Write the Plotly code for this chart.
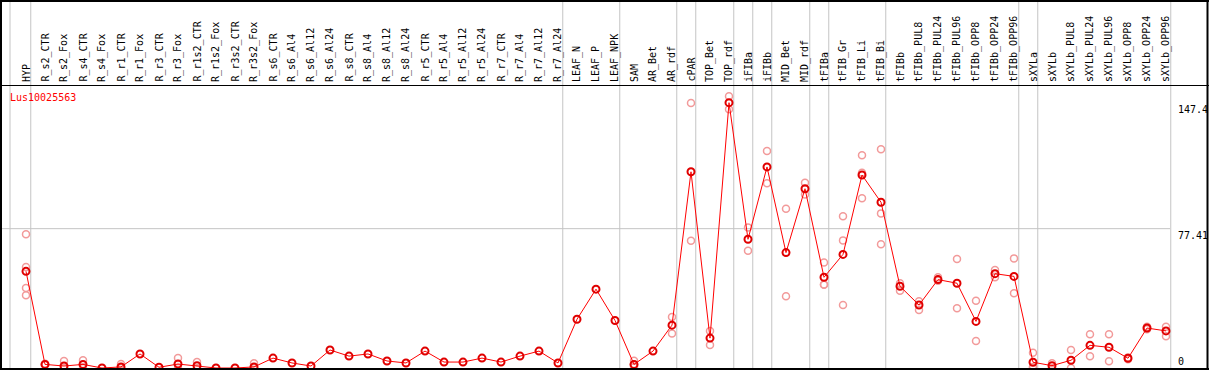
import plotly.graph_objects as go

# ---------------- data ----------------
gene_id = "Lus10025563"

categories = [
    "HYP",
    "R_s2_CTR", "R_s2_Fox", "R_s4_CTR", "R_s4_Fox", "R_r1_CTR", "R_r1_Fox",
    "R_r3_CTR", "R_r3_Fox", "R_r1s2_CTR", "R_r1s2_Fox", "R_r3s2_CTR", "R_r3s2_Fox",
    "R_s6_CTR", "R_s6_Al4", "R_s6_Al12", "R_s6_Al24",
    "R_s8_CTR", "R_s8_Al4", "R_s8_Al12", "R_s8_Al24",
    "R_r5_CTR", "R_r5_Al4", "R_r5_Al12", "R_r5_Al24",
    "R_r7_CTR", "R_r7_Al4", "R_r7_Al12", "R_r7_Al24",
    "LEAF_N", "LEAF_P", "LEAF_NPK",
    "SAM", "AR_Bet", "AR_rdf",
    "cPAR", "TOP_Bet", "TOP_rdf", "iFIBa", "iFIBb", "MID_Bet", "MID_rdf",
    "tFIBa", "tFIB_Gr", "tFIB_Li", "tFIB_Bi",
    "tFIBb", "tFIBb_PUL8", "tFIBb_PUL24", "tFIBb_PUL96", "tFIBb_OPP8", "tFIBb_OPP24", "tFIBb_OPP96",
    "sXYLa", "sXYLb", "sXYLb_PUL8", "sXYLb_PUL24", "sXYLb_PUL96", "sXYLb_OPP8", "sXYLb_OPP24", "sXYLb_OPP96",
]

mean_values = [
    53.7,
    2.0, 1.1, 2.0, 0.0, 0.6, 7.8,
    0.4, 2.2, 1.3, 0.0, 0.0, 0.6,
    5.5, 2.8, 1.1, 10.0,
    6.6, 7.8, 3.9, 2.8,
    9.4, 3.3, 3.3, 5.5,
    3.3, 6.6, 9.4, 2.8,
    27.1, 43.8, 26.4,
    2.0, 9.4, 23.8,
    109.0, 16.6, 147.4, 71.5, 111.7, 64.1, 99.6,
    50.4, 63.1, 107.2, 92.1,
    45.4, 35.0, 49.1, 47.1, 25.9, 52.4, 50.9,
    3.2, 1.3, 4.3, 12.6, 11.5, 5.4, 22.2, 20.6,
]

replicate_values = [
    [74.3, 56.1, 44.4, 40.4],
    [2.3, 1.8], [3.9, 0.0], [4.3, 0.0], [], [2.2, 0.0], [],
    [], [5.6, 0.0], [3.3, 0.0], [], [], [2.6, 0.0],
    [], [], [], [],
    [], [], [], [],
    [], [], [], [],
    [], [], [], [],
    [], [], [],
    [4.0, 0.7, 1.9], [], [28.3, 19.2],
    [147.2, 70.7], [20.5, 12.8], [151.0, 143.8], [78.0, 65.2], [120.6, 102.7], [88.5, 39.9], [102.9, 96.4],
    [58.6, 46.4, 46.3], [84.3, 70.9, 35.0], [118.2, 108.5, 94.3], [121.5, 85.9, 68.7],
    [47.1, 42.9], [37.1, 32.2], [50.4, 48.5], [60.6, 33.2], [37.4, 15.0], [54.4, 50.4], [60.9, 41.5],
    [8.5, 0.4, 0.6], [2.6, 0.0], [10.0, 0.0], [18.7, 6.5], [18.7, 3.7], [5.9, 4.9], [22.9, 21.5], [22.9, 17.6],
]

# last category of each sample group (group separators drawn after them)
group_ends = [
    "HYP", "R_r7_Al24", "LEAF_NPK", "AR_rdf", "cPAR", "TOP_rdf", "iFIBa", "iFIBb",
    "MID_rdf", "tFIBa", "tFIB_Bi", "tFIBb_OPP96", "sXYLa", "sXYLb_OPP96",
]

y_tick_values = [147.4, 77.41, 0]
y_tick_labels = ["147.4", "77.41", "0"]

# ---------------- geometry ----------------
W, H = 1209, 370
X0_PX, COL_PX = 26, 19          # pixel x of first column, column pitch
Y0_PX, Y_SCALE = 368, 1.8       # pixel y of value 0, pixels per unit
HEADER_PX = 85.5
LABEL_BOTTOM_PX = 83
AXIS_RIGHT_PX = 1170
FONT = "DejaVu Sans Mono"

x_range = [(0 - X0_PX) / COL_PX, (W - X0_PX) / COL_PX]
y_range = [(Y0_PX - H) / Y_SCALE, Y0_PX / Y_SCALE]


def px_x(p):
    return p / W


def px_y(p):
    return 1 - p / H


idx = list(range(len(categories)))
rep_x, rep_y = [], []
for i, reps in enumerate(replicate_values):
    for v in reps:
        rep_x.append(i)
        rep_y.append(v)

fig = go.Figure()
fig.add_trace(go.Scatter(
    x=rep_x, y=rep_y, mode="markers", hoverinfo="skip",
    marker=dict(symbol="circle-open", size=7, color="#F29A9A", line=dict(width=1.5)),
))
fig.add_trace(go.Scatter(
    x=idx, y=mean_values, mode="lines+markers", text=categories,
    line=dict(color="#FF0000", width=1),
    marker=dict(symbol="circle-open", size=7, color="#E00000", line=dict(width=2)),
))

shapes = []
grid = dict(color="#C4C4C4", width=1)
# vertical group separators (full height)
sep_positions = [(10 - X0_PX) / COL_PX] + [categories.index(c) + 0.25 for c in group_ends]
for xs in sep_positions:
    shapes.append(dict(type="line", xref="x", yref="paper", x0=xs, x1=xs, y0=0, y1=1,
                       line=grid, layer="below"))
# horizontal grid at middle tick
x_end = (AXIS_RIGHT_PX - X0_PX) / COL_PX
shapes.append(dict(type="line", xref="x", yref="y", x0=x_range[0], x1=x_end,
                   y0=y_tick_values[1], y1=y_tick_values[1], line=grid, layer="below"))
# black frame and header rule
black2 = dict(color="black", width=2)
shapes += [
    dict(type="line", xref="paper", yref="paper", x0=0, x1=1, y0=px_y(1), y1=px_y(1), line=black2),
    dict(type="line", xref="paper", yref="paper", x0=0, x1=1, y0=px_y(369), y1=px_y(369), line=black2),
    dict(type="line", xref="paper", yref="paper", x0=px_x(1), x1=px_x(1), y0=0, y1=1, line=black2),
    dict(type="line", xref="paper", yref="paper", x0=px_x(1207.5), x1=px_x(1207.5), y0=0, y1=1, line=black2),
    dict(type="line", xref="paper", yref="paper", x0=0, x1=1, y0=px_y(HEADER_PX), y1=px_y(HEADER_PX),
         line=dict(color="black", width=1)),
]

annotations = []
for i, name in enumerate(categories):
    annotations.append(dict(
        x=i, xref="x", y=px_y(LABEL_BOTTOM_PX), yref="paper", text=name, textangle=-90,
        xanchor="center", yanchor="bottom", showarrow=False, borderpad=0,
        font=dict(family=FONT, size=10, color="black"),
    ))
annotations.append(dict(
    x=px_x(9), xref="paper", y=px_y(97), yref="paper", text=gene_id, xanchor="left",
    yanchor="middle", showarrow=False, borderpad=0, font=dict(family=FONT, size=10, color="#FF0000"),
))
for v, lab in zip(y_tick_values, y_tick_labels):
    annotations.append(dict(
        x=px_x(1177), xref="paper", y=v, yref="y", text=lab, xanchor="left",
        yanchor="bottom" if v == 0 else "top", showarrow=False, borderpad=0,
        font=dict(family=FONT, size=10, color="black"),
    ))

fig.update_layout(
    width=W, height=H, margin=dict(l=0, r=0, t=0, b=0),
    paper_bgcolor="white", plot_bgcolor="white", showlegend=False,
    xaxis=dict(range=x_range, visible=False, showgrid=False, zeroline=False, fixedrange=True),
    yaxis=dict(range=y_range, visible=False, showgrid=False, zeroline=False, fixedrange=True),
    shapes=shapes, annotations=annotations,
)

fig.write_html("out.html", config={"displayModeBar": False},
               post_script="document.body.style.margin='0';")
